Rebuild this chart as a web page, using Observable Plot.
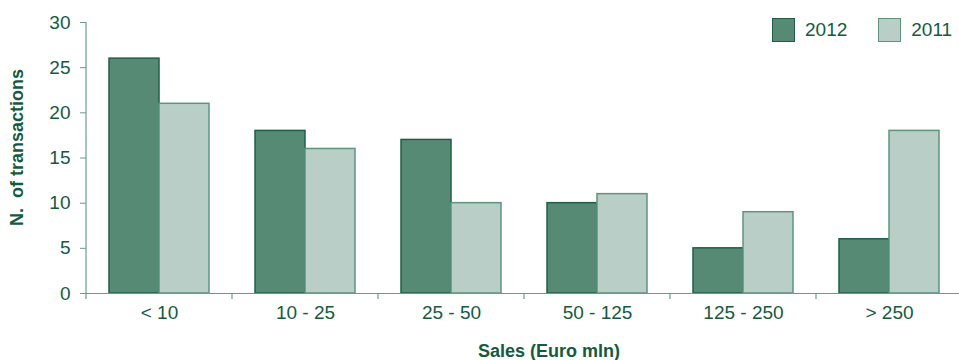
<!DOCTYPE html>
<html>
<head>
<meta charset="utf-8">
<script src="https://cdn.jsdelivr.net/npm/d3@7"></script>
<script src="https://cdn.jsdelivr.net/npm/@observablehq/plot@0.6"></script>
<style>
  html, body { margin: 0; padding: 0; background: #fff; }
  #wrap { position: relative; width: 959px; height: 360px; overflow: hidden; font-family: "Liberation Sans", Arial, sans-serif; }
  #legend { position: absolute; top: 18px; left: 772px; display: flex; align-items: center; font-size: 19px; color: #145a41; }
  .sw { width: 21px; height: 22px; border: 1.5px solid; margin-right: 10px; }
  .item { display: flex; align-items: center; margin-right: 31px; }
</style>
</head>
<body>
<div id="wrap"><div id="legend"></div></div>
<script>
const categories = ["< 10", "10 - 25", "25 - 50", "50 - 125", "125 - 250", "> 250"];
const series = ["2012", "2011"];
const values2012 = [26, 18, 17, 10, 5, 6];
const values2011 = [21, 16, 10, 11, 9, 18];
const yTicks = [0, 5, 10, 15, 20, 25, 30];
const yTitle = "N.  of transactions";
const xTitle = "Sales (Euro mln)";

const textColor = "#145a41";
const axisColor = "#6a9c86";
const fills = {"2012": "#568a74", "2011": "#b9cec6"};
const strokes = {"2012": "#1f5f47", "2011": "#5e957d"};

const data = [];
categories.forEach((c, i) => {
  data.push({cat: c, year: "2012", value: values2012[i]});
  data.push({cat: c, year: "2011", value: values2011[i]});
});

const chart = Plot.plot({
  width: 959,
  height: 360,
  marginLeft: 86,
  marginRight: -3,
  marginTop: 22,
  marginBottom: 67,
  style: {fontFamily: "'Liberation Sans', Arial, sans-serif", fontSize: "19px", color: textColor, background: "white", overflow: "visible"},
  fx: {domain: categories, padding: 0, label: null, axis: "bottom", tickSize: 0, tickPadding: 12},
  x: {domain: series, paddingInner: 0, paddingOuter: 0.445, axis: null},
  y: {domain: [0, 30], ticks: yTicks, tickSize: 6, tickPadding: 10, label: null},
  marks: [
    ...series.map(s => Plot.barY(data.filter(d => d.year === s), {
      fx: "cat", x: "year", y: "value", fill: fills[s], stroke: strokes[s], strokeWidth: 1.5
    })),
    Plot.ruleY([0], {stroke: axisColor, strokeWidth: 1.2})
  ]
});

document.getElementById("wrap").prepend(chart);

// Axis lines, category boundary ticks and titles drawn with the chart's own scales
const svg = d3.select(chart.tagName.toLowerCase() === "svg" ? chart : chart.querySelector("svg"));
svg.selectAll("g[aria-label='y-axis tick'] path, g[aria-label='y-axis tick'] line").attr("stroke", axisColor);
const ys = chart.scale("y");
const yScale = d3.scaleLinear(ys.domain, ys.range);
const fxs = chart.scale("fx");
const fxScale = d3.scaleBand(fxs.domain, fxs.range).padding(0);
const y0 = yScale(0);
const xLeft = fxScale(categories[0]);

svg.append("line")
  .attr("x1", xLeft).attr("x2", xLeft)
  .attr("y1", yScale(30)).attr("y2", y0)
  .attr("stroke", axisColor).attr("stroke-width", 1.2);

const bounds = categories.map(c => fxScale(c)).concat([fxScale(categories[categories.length - 1]) + fxScale.bandwidth()]);
svg.append("g").selectAll("line").data(bounds).join("line")
  .attr("x1", d => d).attr("x2", d => d)
  .attr("y1", y0).attr("y2", y0 + 6)
  .attr("stroke", axisColor).attr("stroke-width", 1.2);

svg.append("text")
  .attr("transform", `translate(17,${(yScale(30) + y0) / 2 - 10}) rotate(-90)`)
  .attr("text-anchor", "middle").attr("dy", "0.35em")
  .attr("fill", textColor).attr("font-weight", "bold").attr("font-size", 18)
  .style("white-space", "pre")
  .text(yTitle);

svg.append("text")
  .attr("x", 549).attr("y", 357)
  .attr("text-anchor", "middle")
  .attr("fill", textColor).attr("font-weight", "bold").attr("font-size", 18)
  .text(xTitle);

// Legend
const legend = d3.select("#legend");
series.forEach(s => {
  const item = legend.append("div").attr("class", "item");
  item.append("div").attr("class", "sw").style("background", fills[s]).style("border-color", strokes[s]);
  item.append("span").text(s);
});
</script>
</body>
</html>
